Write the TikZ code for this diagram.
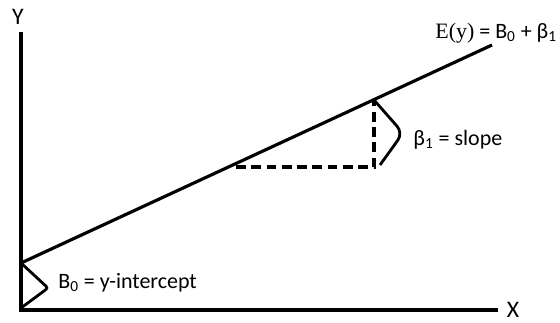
\documentclass[tikz,border=0pt]{standalone}
\usepackage{fontspec}
\setmainfont{Carlito}
\newfontfamily\serifface{Liberation Serif}
\usetikzlibrary{positioning}
\tikzset{
  axisline/.style={line width=2.3pt,black},
  regline/.style={line width=1.8pt,black},
  dashline/.style={line width=2.3pt,black,dash pattern=on 5.5pt off 3.2pt},
  bracket/.style={line width=1.6pt,black},
  lbl/.style={font=\fontsize{12.5}{14}\selectfont,inner sep=0pt},
  axislbl/.style={font=\fontsize{13.5}{15}\selectfont,inner sep=0pt},
}

\begin{document}
\begin{tikzpicture}[x=0.02cm,y=-0.02cm]
  \useasboundingbox (0,0) rectangle (560,322);
  % axes and line
  \coordinate (origin) at (21,310);
  \coordinate (ytop) at (21,32);
  \coordinate (xend) at (498,310);
  \coordinate (icpt) at (21,263);
  \coordinate (lineend) at (492,45);
  \coordinate (runstart) at (236,167);
  \coordinate (corner) at (374,167);
  \coordinate (rise) at (374,100);
  \coordinate (bapex) at (48,288);
  \coordinate (bend) at (21,308);
  \coordinate (sapex) at (403,133);
  \coordinate (send) at (380,165);
  \node[axislbl] (ylbl) at (18,17) {Y};
  \node[axislbl] (xlbl) at (513,310) {X};
  \node[lbl,anchor=west] (eqlbl) at (435,33) {{\serifface E(y)} = B\textsubscript{0} + β\textsubscript{1}};
  \node[lbl,anchor=west] (slbl) at (413,140) {β\textsubscript{1} = slope};
  \node[lbl,anchor=west] (ilbl) at (58,283) {B\textsubscript{0} = y-intercept};
  \draw[axisline] (ytop) -- (origin) -- (xend);
  \draw[regline] (icpt) -- (lineend);
  \draw[dashline] (runstart) -- (corner) -- (rise);
  \draw[bracket,rounded corners=1.5pt] (icpt) -- (bapex) -- (bend);
  \draw[bracket,rounded corners=5pt] (rise) -- (sapex) -- (send);
\end{tikzpicture}
\end{document}
